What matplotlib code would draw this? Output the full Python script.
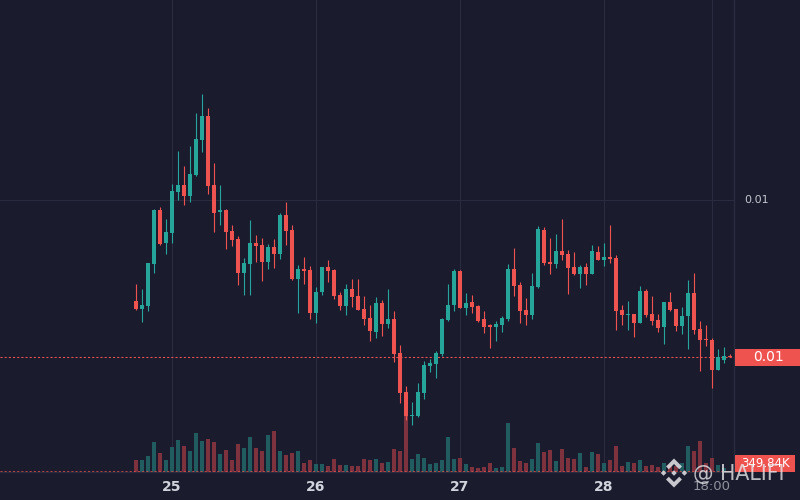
import matplotlib
matplotlib.use("Agg")
import matplotlib.pyplot as plt
from matplotlib.patches import Polygon, Rectangle

# hourly candles, first one at 24th 18:00
opens = [0.00899, 0.00891, 0.00894, 0.00936, 0.00990, 0.00957, 0.00967, 0.01008, 0.01015, 0.01004,
         0.01025, 0.01060, 0.01084, 0.01015, 0.00988, 0.00990, 0.00969, 0.00961, 0.00927, 0.00936,
         0.00957, 0.00955, 0.00938, 0.00953, 0.00946, 0.00985, 0.00970, 0.00921, 0.00931, 0.00930,
         0.00887, 0.00908, 0.00933, 0.00930, 0.00905, 0.00894, 0.00911, 0.00904, 0.00891, 0.00882,
         0.00868, 0.00897, 0.00876, 0.00881, 0.00847, 0.00808, 0.00784, 0.00784, 0.00807, 0.00834,
         0.00836, 0.00846, 0.00880, 0.00895, 0.00929, 0.00892, 0.00898, 0.00894, 0.00881, 0.00875,
         0.00873, 0.00875, 0.00881, 0.00931, 0.00915, 0.00890, 0.00885, 0.00913, 0.00970, 0.00938,
         0.00936, 0.00949, 0.00946, 0.00933, 0.00926, 0.00933, 0.00926, 0.00948, 0.00940, 0.00943,
         0.00942, 0.00890, 0.00885, 0.00886, 0.00877, 0.00909, 0.00886, 0.00880, 0.00873, 0.00898,
         0.00891, 0.00874, 0.00884, 0.00907, 0.00871, 0.00861, 0.00860, 0.00830, 0.00840, 0.00844]
highs = [0.00916, 0.00911, 0.00937, 0.00991, 0.00993, 0.00981, 0.01016, 0.01049, 0.01034, 0.01054,
         0.01087, 0.01106, 0.01092, 0.01037, 0.01015, 0.00991, 0.00975, 0.00964, 0.00942, 0.00980,
         0.00965, 0.00962, 0.00956, 0.00961, 0.00987, 0.00998, 0.00975, 0.00935, 0.00943, 0.00934,
         0.00913, 0.00933, 0.00940, 0.00931, 0.00908, 0.00916, 0.00921, 0.00921, 0.00904, 0.00895,
         0.00903, 0.00900, 0.00911, 0.00889, 0.00855, 0.00814, 0.00798, 0.00817, 0.00839, 0.00841,
         0.00849, 0.00882, 0.00916, 0.00931, 0.00930, 0.00907, 0.00905, 0.00895, 0.00889, 0.00876,
         0.00879, 0.00884, 0.00936, 0.00952, 0.00918, 0.00902, 0.00927, 0.00974, 0.00973, 0.00962,
         0.00966, 0.00981, 0.00950, 0.00948, 0.00935, 0.00937, 0.00955, 0.00954, 0.00957, 0.00975,
         0.00945, 0.00895, 0.00899, 0.00886, 0.00914, 0.00911, 0.00904, 0.00886, 0.00898, 0.00908,
         0.00891, 0.00893, 0.00920, 0.00927, 0.00879, 0.00875, 0.00862, 0.00851, 0.00853, 0.00846]
lows = [0.00890, 0.00878, 0.00889, 0.00927, 0.00955, 0.00946, 0.00957, 0.01000, 0.00995, 0.00998,
        0.01024, 0.01048, 0.01006, 0.00968, 0.00975, 0.00951, 0.00954, 0.00915, 0.00905, 0.00905,
        0.00938, 0.00919, 0.00931, 0.00932, 0.00941, 0.00955, 0.00920, 0.00887, 0.00916, 0.00881,
        0.00877, 0.00905, 0.00918, 0.00901, 0.00890, 0.00885, 0.00893, 0.00890, 0.00875, 0.00859,
        0.00862, 0.00864, 0.00872, 0.00838, 0.00797, 0.00780, 0.00775, 0.00783, 0.00801, 0.00828,
        0.00822, 0.00844, 0.00879, 0.00889, 0.00892, 0.00885, 0.00887, 0.00878, 0.00867, 0.00852,
        0.00859, 0.00868, 0.00879, 0.00904, 0.00877, 0.00875, 0.00881, 0.00912, 0.00935, 0.00926,
        0.00932, 0.00940, 0.00906, 0.00925, 0.00912, 0.00915, 0.00926, 0.00940, 0.00934, 0.00937,
        0.00870, 0.00875, 0.00870, 0.00863, 0.00877, 0.00883, 0.00875, 0.00868, 0.00856, 0.00889,
        0.00869, 0.00866, 0.00851, 0.00866, 0.00829, 0.00854, 0.00812, 0.00830, 0.00837, 0.00843]
closes = [0.00891, 0.00895, 0.00937, 0.00990, 0.00956, 0.00968, 0.01009, 0.01015, 0.01004, 0.01026,
          0.01061, 0.01084, 0.01014, 0.00987, 0.00990, 0.00968, 0.00960, 0.00927, 0.00937, 0.00957,
          0.00954, 0.00938, 0.00953, 0.00946, 0.00985, 0.00969, 0.00921, 0.00931, 0.00929, 0.00887,
          0.00908, 0.00933, 0.00929, 0.00904, 0.00894, 0.00911, 0.00903, 0.00890, 0.00881, 0.00869,
          0.00897, 0.00876, 0.00881, 0.00846, 0.00807, 0.00784, 0.00785, 0.00808, 0.00835, 0.00837,
          0.00847, 0.00881, 0.00895, 0.00929, 0.00892, 0.00897, 0.00893, 0.00879, 0.00873, 0.00873,
          0.00876, 0.00882, 0.00931, 0.00914, 0.00889, 0.00885, 0.00914, 0.00971, 0.00937, 0.00936,
          0.00949, 0.00945, 0.00932, 0.00926, 0.00933, 0.00926, 0.00949, 0.00940, 0.00943, 0.00941,
          0.00889, 0.00885, 0.00886, 0.00877, 0.00909, 0.00885, 0.00879, 0.00872, 0.00898, 0.00890,
          0.00874, 0.00884, 0.00907, 0.00870, 0.00860, 0.00860, 0.00830, 0.00843, 0.00844, 0.00843]
volumes_k = [2925, 2925, 3925, 7425, 4675, 2925, 6175, 7925, 6425, 5175,
             9675, 7675, 8175, 7425, 4425, 5425, 2925, 6925, 5925, 8675,
             5925, 5175, 9175, 10175, 5175, 4175, 4675, 5175, 2175, 2925,
             1925, 1925, 1425, 3175, 1675, 1675, 1425, 1425, 3175, 2925,
             3175, 2175, 2425, 5675, 5175, 13925, 3175, 4425, 3425, 1925,
             2175, 2925, 8675, 3175, 3425, 1925, 1175, 925, 1175, 2175,
             925, 1175, 12175, 5925, 2675, 2175, 3175, 7175, 4925, 5425,
             2675, 5675, 3425, 3175, 4675, 1175, 4925, 4425, 2175, 2925,
             6425, 1425, 2425, 2175, 2925, 1425, 1675, 1175, 2175, 1675,
             1425, 2175, 6425, 5175, 7675, 2175, 3425, 1675, 925, 349.84]

tick_index = [6, 30, 54, 78, 96]
tick_labels = ["25", "26", "27", "28", "18:00"]
grid_price = 0.01

BG = "#1b1b2e"
GRID = "#2b2b40"
UP = "#26a69a"
DOWN = "#ef5350"
UP_VOL = "#215c60"
DOWN_VOL = "#7d323e"
TEXT = "#d1d4dc"

n = len(closes)
idx = list(range(n))
up = [c >= o for o, c in zip(opens, closes)]
candle_colors = [UP if u else DOWN for u in up]
vol_colors = [UP_VOL if u else DOWN_VOL for u in up]

fig = plt.figure(figsize=(8, 5), dpi=100)
fig.patch.set_facecolor(BG)
rect = [0, 28 / 500, 734 / 800, 472 / 500]

# volume pane (bottom layer)
ax_v = fig.add_axes(rect)
ax_v.set_facecolor(BG)
ax_v.bar(idx, volumes_k, width=0.83, color=vol_colors, linewidth=0, zorder=2)
ax_v.axhline(volumes_k[-1], color=DOWN, alpha=0.7, lw=0.75, ls=(0, (2, 2)), zorder=3)
ax_v.set_ylim(0, 118000)
ax_v.set_xlim(-22.667, 99.667)
for t in tick_index:
    ax_v.axvline(t, color=GRID, lw=0.8, zorder=0)
ax_v.set_yticks([])
ax_v.set_xticks(tick_index, tick_labels)
ax_v.tick_params(axis="x", length=0, pad=6, labelsize=10, labelcolor=TEXT)
for lab in ax_v.get_xticklabels():
    if ":" in lab.get_text():
        lab.set_color("#8f929b")
        lab.set_fontsize(9.5)
    else:
        lab.set_fontweight("bold")
for side in ["top", "left"]:
    ax_v.spines[side].set_visible(False)
for side in ["bottom", "right"]:
    ax_v.spines[side].set_color(GRID)
    ax_v.spines[side].set_linewidth(1)

# price pane on top
ax = fig.add_axes(rect)
ax.patch.set_visible(False)
ax.set_xlim(-22.667, 99.667)
ax.set_ylim(0.00728, 0.012)
ax.axhline(grid_price, color=GRID, lw=0.8, zorder=0)
ax.vlines(idx, lows, highs, colors=candle_colors, lw=0.8, zorder=2)
bottoms = [min(o, c) for o, c in zip(opens, closes)]
heights = [max(abs(c - o), 0.00001) for o, c in zip(opens, closes)]
ax.bar(idx, heights, bottom=bottoms, width=0.83, color=candle_colors, linewidth=0, zorder=3)
ax.axhline(closes[-1], color=DOWN, lw=0.75, ls=(0, (2, 2)), zorder=1)
ax.set_xticks([])
ax.set_yticks([])
for s in ax.spines.values():
    s.set_visible(False)

# right price scale labels
ax.annotate(f"{grid_price:.2f}", xy=(1, grid_price), xycoords=("axes fraction", "data"),
            xytext=(10, 0), textcoords="offset pixels", ha="left", va="center",
            fontsize=8, color="#c4c6cf", annotation_clip=False)

fig.canvas.draw()
x_right = ax.transAxes.transform((1, 0))[0]
y_bottom = ax.transAxes.transform((0, 0))[1]


def scale_label(y_disp, text, width, height, fontsize):
    fig.patches.append(Rectangle((x_right + 1, y_disp - height / 2), width, height,
                                 facecolor=DOWN, edgecolor="none", transform=None,
                                 zorder=5))
    fig.text(x_right + 1 + width / 2, y_disp, text, transform=None, ha="center",
             va="center", color="white", fontsize=fontsize, zorder=6)


y_last = ax.transData.transform((0, closes[-1]))[1]
scale_label(y_last, f"{closes[-1]:.2f}", 66, 17, 10)
y_vol = max(ax_v.transData.transform((0, volumes_k[-1]))[1], y_bottom + 8.5)
scale_label(y_vol, f"{volumes_k[-1]:.2f}K", 60, 17, 8.5)

# watermark overlay (pixel coords, y down), drawn over everything
ov = fig.add_axes([0, 0, 1, 1])
ov.set_zorder(10)
ov.set_xlim(0, 800)
ov.set_ylim(500, 0)
ov.axis("off")
ov.patch.set_visible(False)

logo_parts = [
    [(0, 0.19), (0.19, 0), (0, -0.19), (-0.19, 0)],
    [(-0.72, 0.19), (-0.53, 0), (-0.72, -0.19), (-0.91, 0)],
    [(0.72, 0.19), (0.53, 0), (0.72, -0.19), (0.91, 0)],
    [(0, 1), (0.55, 0.45), (0.36, 0.26), (0, 0.62), (-0.36, 0.26), (-0.55, 0.45)],
    [(0, -1), (0.55, -0.45), (0.36, -0.26), (0, -0.62), (-0.36, -0.26), (-0.55, -0.45)],
]
cx, cy, s = 674, 473, 14.5
for part in logo_parts:
    pts = [(cx + s * u, cy - s * v) for u, v in part]
    ov.add_patch(Polygon(pts, closed=True, facecolor="#e6e6ea", edgecolor="none", alpha=0.85))
ov.text(693, 474, "@ HALIFI", fontsize=14.8, color="#e6e6ea", alpha=0.8,
        ha="left", va="center")

fig.savefig("out.png", dpi=100, facecolor=BG)
